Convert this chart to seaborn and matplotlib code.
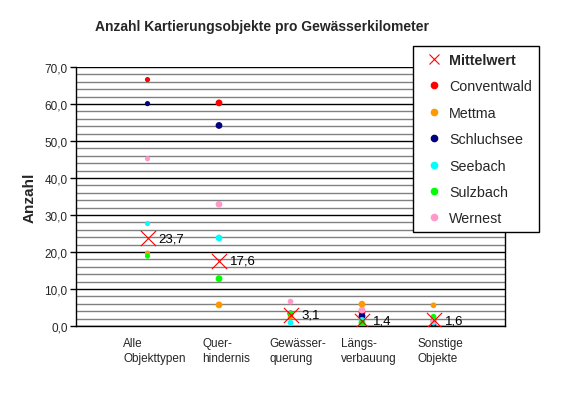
import matplotlib
matplotlib.use("Agg")
import matplotlib.pyplot as plt
import matplotlib.transforms as mtrans
from matplotlib.lines import Line2D
from matplotlib.ticker import MultipleLocator, FuncFormatter
import seaborn as sns
import pandas as pd

categories = ["Alle\nObjekttypen", "Quer-\nhindernis", "Gewässer-\nquerung", "Längs-\nverbauung", "Sonstige\nObjekte"]
sites = ["Conventwald", "Mettma", "Schluchsee", "Seebach", "Sulzbach", "Wernest"]
conventwald = [66.6, 60.3, 3.2, 3.7, 1.3]
mettma = [19.7, 5.7, 2.5, 5.9, 5.6]
schluchsee = [60.1, 54.2, 3.4, 2.7, 0.3]
seebach = [27.7, 23.8, 0.9, 1.5, 0.9]
sulzbach = [18.9, 12.8, 3.4, 0.8, 2.5]
wernest = [45.2, 32.9, 6.6, 4.3, 1.2]
mittelwert = [23.7, 17.6, 3.1, 1.4, 1.6]
mean_labels = ["23,7", "17,6", "3,1", "1,4", "1,6"]
colors = ["#FF0000", "#FF9900", "#000080", "#00FFFF", "#00FF00", "#FF99CC"]
cat_sizes = [14, 24, 17, 24, 17]

series = [conventwald, mettma, schluchsee, seebach, sulzbach, wernest]
rows = []
for site, vals in zip(sites, series):
    for cat, v in zip(categories, vals):
        rows.append({"cat": cat, "site": site, "value": v})
df = pd.DataFrame(rows)
mean_df = pd.DataFrame({"cat": categories, "value": mittelwert})

sns.set_style("white")
plt.rcParams["font.family"] = ["Liberation Sans", "DejaVu Sans"]

fig = plt.figure(figsize=(5.7, 4.02), dpi=100)
ax = fig.add_axes([76 / 570, 75 / 402, (505 - 76) / 570, (327 - 68) / 402])

ax.set_ylim(0, 70)
ax.set_xlim(-1, 5)
ax.yaxis.set_major_locator(MultipleLocator(10))
ax.yaxis.set_minor_locator(MultipleLocator(2))
ax.grid(which="minor", axis="y", color="#808080", linewidth=1.0, zorder=0)
ax.grid(which="major", axis="y", color="black", linewidth=1.0, zorder=0)
ax.set_axisbelow(True)

sizes = {c: s for c, s in zip(categories, cat_sizes)}
sns.scatterplot(data=df, x="cat", y="value", hue="site", palette=dict(zip(sites, colors)),
                size="cat", sizes=sizes, marker="o", edgecolor="none", linewidth=0,
                legend=False, ax=ax, zorder=3)
sns.scatterplot(data=mean_df, x="cat", y="value", marker="x", color="#FF0000", s=120,
                linewidth=0.8, legend=False, ax=ax, zorder=4)
ax.set_xlim(-1, 5)
for i, (v, lab) in enumerate(zip(mittelwert, mean_labels)):
    ax.annotate(lab, (i, v), xytext=(8, 0), textcoords="offset points",
                ha="left", va="center", fontsize=9.5, color="black")

ax.yaxis.set_major_formatter(FuncFormatter(lambda v, p: f"{v:.1f}".replace(".", ",")))
ax.tick_params(axis="y", which="major", length=4, width=1, color="black", labelsize=8.5, pad=2, left=True)
ax.tick_params(axis="y", which="minor", length=0)
ax.tick_params(axis="x", length=0, labelsize=8.5, pad=8)
ax.set_xticks(range(len(categories)))
ax.set_xticklabels(categories, multialignment="left", linespacing=1.3)
offset = mtrans.ScaledTranslation(7 / 100, 0, fig.dpi_scale_trans)
for lbl in ax.get_xticklabels():
    lbl.set_transform(lbl.get_transform() + offset)

ax.set_xlabel("")
ax.set_ylabel("Anzahl", fontsize=11, fontweight="bold", labelpad=6)
for side in ["left", "bottom", "right"]:
    ax.spines[side].set_visible(True)
    ax.spines[side].set_color("black")
    ax.spines[side].set_linewidth(1.0)
ax.spines["top"].set_visible(False)

fig.text(262 / 570, 1 - 27 / 402, "Anzahl Kartierungsobjekte pro Gewässerkilometer",
         ha="center", va="center", fontsize=10, fontweight="bold")

handles = [Line2D([], [], marker="x", color="#FF0000", linestyle="none", markersize=7, markeredgewidth=0.8)]
for c in colors:
    handles.append(Line2D([], [], marker="o", color=c, linestyle="none", markersize=4.5))
labels = ["Mittelwert"] + sites
leg = fig.legend(handles, labels, loc="upper left", bbox_to_anchor=(413 / 570, 1 - 47 / 402),
                 frameon=True, fancybox=False, edgecolor="black", framealpha=1,
                 fontsize=10.3, labelspacing=0.87, handlelength=2.0, handletextpad=0.05,
                 borderpad=0.47, borderaxespad=0)
leg.get_frame().set_linewidth(1.0)
leg.get_texts()[0].set_fontweight("bold")

fig.savefig("out.png", dpi=100)
